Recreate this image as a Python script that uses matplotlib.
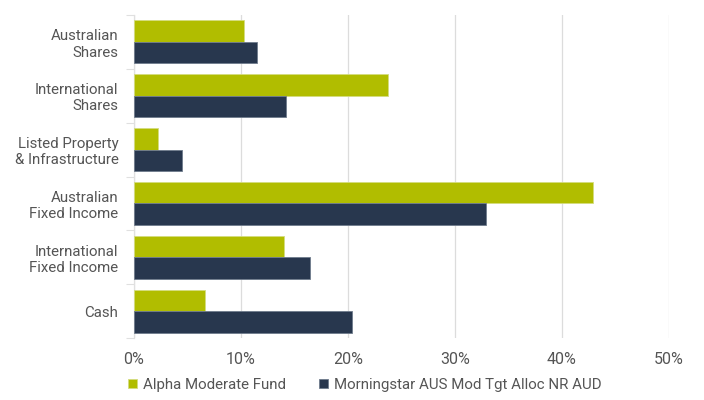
import numpy as np
import matplotlib.pyplot as plt
from matplotlib.ticker import FixedLocator, FuncFormatter

categories = ['Australian\nShares', 'International\nShares', 'Listed Property\n& Infrastructure',
              'Australian\nFixed Income', 'International\nFixed Income', 'Cash']
fund = [10.3, 23.8, 2.3, 42.9, 14.0, 6.7]
benchmark = [11.5, 14.2, 4.5, 32.9, 16.5, 20.4]
series_names = ['Alpha Moderate Fund', 'Morningstar AUS Mod Tgt Alloc NR AUD']

green = '#b1bd00'
navy = '#28374e'
text_col = '#555555'

plt.rcParams['font.family'] = ['Roboto', 'DejaVu Sans']

fig = plt.figure(figsize=(7.04, 4.0), dpi=100)
ax = fig.add_axes([0.19, 0.155, 0.76, 0.8075])

y = np.arange(len(categories))
h = 0.4
ax.barh(y - h / 2, fund, height=h, color=green, edgecolor='#d4dc80', linewidth=0.6,
        label=series_names[0], zorder=3)
ax.barh(y + h / 2, benchmark, height=h, color=navy, edgecolor='#6f7b8c', linewidth=0.6,
        label=series_names[1], zorder=3)

ax.set_ylim(len(categories) - 0.5, -0.5)
ax.set_xlim(0, 50)
ax.set_xticks([0, 10, 20, 30, 40, 50])
ax.xaxis.set_major_formatter(FuncFormatter(lambda v, p: f'{v:.0f}%'))
ax.set_yticks(y)
ax.set_yticklabels(categories)
ax.yaxis.set_minor_locator(FixedLocator(np.arange(-0.5, len(categories), 1.0)))

ax.tick_params(axis='y', which='major', length=0, pad=11, labelsize=10.8, labelcolor=text_col)
ax.tick_params(axis='y', which='minor', length=6, color='#e0e0e0', width=0.8)
ax.tick_params(axis='x', length=0, pad=10, labelsize=11.5, labelcolor=text_col)
for lbl in ax.get_yticklabels():
    lbl.set_horizontalalignment('right')
    lbl.set_multialignment('right')

ax.grid(axis='x', color='#dcdcdc', linewidth=0.9, zorder=0)
for s in ['top', 'right', 'bottom']:
    ax.spines[s].set_visible(False)
ax.spines['left'].set_color('#e0e0e0')
ax.spines['left'].set_linewidth(0.9)

leg = fig.legend(loc='lower left', bbox_to_anchor=(0.163, -0.013), ncol=2, frameon=False,
                 fontsize=10.8, handlelength=0.6, handleheight=0.6, handletextpad=0.4,
                 columnspacing=2.2)
for t in leg.get_texts():
    t.set_color(text_col)

fig.savefig('out.png', dpi=100)
